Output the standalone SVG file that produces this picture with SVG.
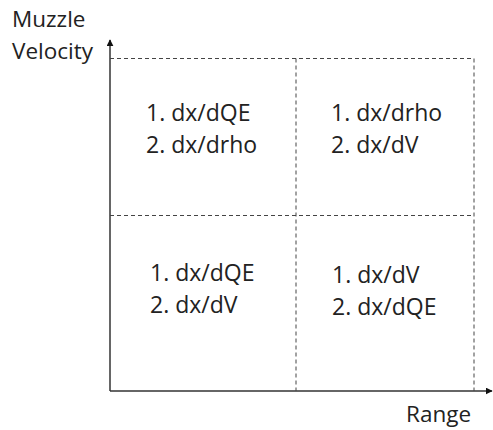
<svg xmlns="http://www.w3.org/2000/svg" width="493" height="430" viewBox="0 0 493 430">
<style>
text{font-family:"Open Sans","Liberation Sans",sans-serif;font-size:23px;fill:#222}
.lbl{font-size:22.5px}
.axis{stroke:#333;stroke-width:1.5;fill:none}
.dash{stroke:#444;stroke-width:1;stroke-dasharray:4,3;fill:none}
</style>
<defs>
<marker id="ah" viewBox="0 0 10 10" refX="9" refY="5" markerWidth="7" markerHeight="7" markerUnits="userSpaceOnUse" orient="auto">
<path d="M0,0 L10,5 L0,10 z" fill="#111"/>
</marker>
</defs>
<g id="connectors">
<line class="axis" x1="110" y1="391" x2="110" y2="40" marker-end="url(#ah)"/>
<line class="axis" x1="110" y1="391" x2="492" y2="391" marker-end="url(#ah)"/>
<line class="dash" x1="110" y1="58.5" x2="474" y2="58.5"/>
<line class="dash" x1="474" y1="58.5" x2="474" y2="391"/>
<line class="dash" x1="296" y1="58.5" x2="296" y2="391"/>
<line class="dash" x1="110" y1="215.5" x2="474" y2="215.5"/>
</g>
<g id="label-y"><text class="lbl" x="12" y="27">Muzzle</text><text class="lbl" x="12" y="59">Velocity</text></g>
<g id="label-x"><text class="lbl" x="406" y="422">Range</text></g>
<g id="q-tl"><text x="146" y="121">1. dx/dQE</text><text x="146" y="153">2. dx/drho</text></g>
<g id="q-tr"><text x="331" y="121">1. dx/drho</text><text x="331" y="153">2. dx/dV</text></g>
<g id="q-bl"><text x="150" y="281">1. dx/dQE</text><text x="150" y="313">2. dx/dV</text></g>
<g id="q-br"><text x="332" y="283">1. dx/dV</text><text x="332" y="315">2. dx/dQE</text></g>
</svg>
